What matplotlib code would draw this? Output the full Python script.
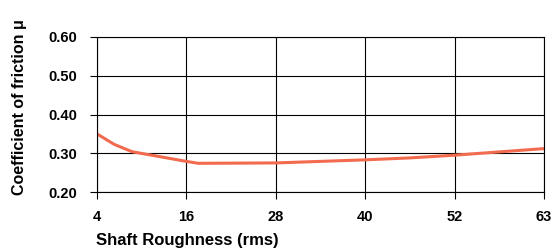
import matplotlib
matplotlib.use("Agg")
import matplotlib.pyplot as plt

roughness = [4, 6.3, 8.7, 16, 17.6, 28, 40, 46, 52, 64]
friction = [0.350, 0.323, 0.304, 0.279, 0.274, 0.275, 0.283, 0.288, 0.295, 0.312]
xtick_pos = [4, 16, 28, 40, 52, 64]
xtick_labels = ["4", "16", "28", "40", "52", "63"]
yticks = [0.20, 0.30, 0.40, 0.50, 0.60]

plt.rcParams['font.family'] = ['Liberation Sans', 'DejaVu Sans']

fig = plt.figure(figsize=(5.56, 2.52), dpi=100)
ax = fig.add_axes([97/556, 1-192/252, (544-97)/556, (192-37)/252])

ax.plot(roughness, friction, color="#F26B4F", linewidth=2.2, solid_capstyle="butt")
ax.set_xlim(4, 64)
ax.set_ylim(0.20, 0.60)
ax.set_xticks(xtick_pos)
ax.set_xticklabels(xtick_labels)
ax.set_yticks(yticks)
ax.set_yticklabels([f"{v:.2f}" for v in yticks])
ax.grid(True, color="black", linewidth=0.8)
ax.set_axisbelow(True)
for s in ax.spines.values():
    s.set_color("black")
    s.set_linewidth(0.8)
ax.tick_params(axis="both", length=5, width=0.8, color="black", labelsize=10.5)
ax.tick_params(axis="x", pad=8)
ax.tick_params(axis="y", pad=9)
for lab in ax.get_xticklabels() + ax.get_yticklabels():
    lab.set_fontweight("bold")

fig.text(96/556, 1-240/252, "Shaft Roughness (rms)", fontsize=12, fontweight="bold",
         ha="left", va="center")
fig.text(20/556, 1-107/252, "Coefficient of friction μ", fontsize=11.5, fontweight="bold",
         rotation=90, ha="center", va="center")

fig.savefig("out.png", dpi=100)
